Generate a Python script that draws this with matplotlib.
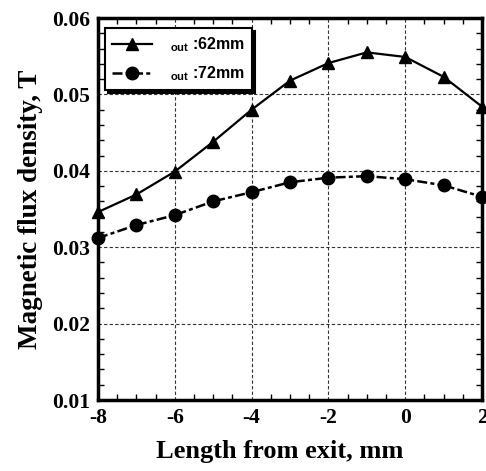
import matplotlib
matplotlib.use("Agg")
import matplotlib.pyplot as plt
from matplotlib.ticker import MultipleLocator, FuncFormatter

x = [-8, -7, -6, -5, -4, -3, -2, -1, 0, 1, 2]
b_62 = [0.0346, 0.0369, 0.0399, 0.0438, 0.0480, 0.0518, 0.0541, 0.0555, 0.0549, 0.0523, 0.0484]
b_72 = [0.0312, 0.0329, 0.0342, 0.0360, 0.0372, 0.0385, 0.0391, 0.0393, 0.0389, 0.0381, 0.0366]
labels = [r"$_{\mathbf{out}}$ :62mm", r"$_{\mathbf{out}}$ :72mm"]

plt.rcParams['font.family'] = ['Liberation Serif', 'DejaVu Serif']
plt.rcParams['mathtext.fontset'] = 'custom'
plt.rcParams['mathtext.bf'] = 'Liberation Sans:bold'

fig = plt.figure(figsize=(4.86, 4.71), dpi=100)
ax = fig.add_axes([98/486, 1-400/471, (482-98)/486, (400-18)/471])

ax.plot(x, b_62, color='black', lw=1.6, marker='^', ms=8, label=labels[0], clip_on=False, zorder=5)
ax.plot(x, b_72, color='black', lw=1.8, ls=(0, (4, 1.3, 1.6, 1.3)), marker='o', ms=9,
        label=labels[1], clip_on=False, zorder=5)

ax.set_xlim(-8, 2)
ax.set_ylim(0.01, 0.06)
ax.xaxis.set_major_locator(MultipleLocator(2))
ax.xaxis.set_minor_locator(MultipleLocator(0.5))
ax.yaxis.set_major_locator(MultipleLocator(0.01))
ax.yaxis.set_minor_locator(MultipleLocator(0.002))
ax.xaxis.set_major_formatter(FuncFormatter(lambda v, p: f"{v:.0f}"))
ax.yaxis.set_major_formatter(FuncFormatter(lambda v, p: f"{v:.2f}"))

ax.tick_params(which='both', direction='in', top=True, right=True, width=1, colors='black')
ax.tick_params(which='major', length=0, pad=6, labelsize=15.5)
ax.tick_params(which='minor', length=4)
for lab in ax.get_xticklabels() + ax.get_yticklabels():
    lab.set_fontweight('bold')
for s in ax.spines.values():
    s.set_linewidth(2.5)

ax.grid(True, which='major', ls=(0, (3, 2)), color='#333333', lw=0.8)

ax.set_xlabel("Length from exit, mm", fontsize=19, fontweight='bold')
ax.xaxis.set_label_coords(0.474, -0.105)
ax.set_ylabel("Magnetic flux density, T", fontsize=19.5, fontweight='bold', labelpad=6)

leg = ax.legend(loc='upper left', bbox_to_anchor=(0.018, 0.974), borderaxespad=0,
                frameon=True, fancybox=False,
                shadow={'color': 'black', 'alpha': 1}, edgecolor='black', framealpha=1,
                handlelength=2.5, handletextpad=1.1, borderpad=0.45, labelspacing=0.65,
                prop={'family': 'Liberation Sans', 'weight': 'bold', 'size': 11.5})
leg.get_frame().set_linewidth(1.5)

fig.savefig("out.png", dpi=100)
